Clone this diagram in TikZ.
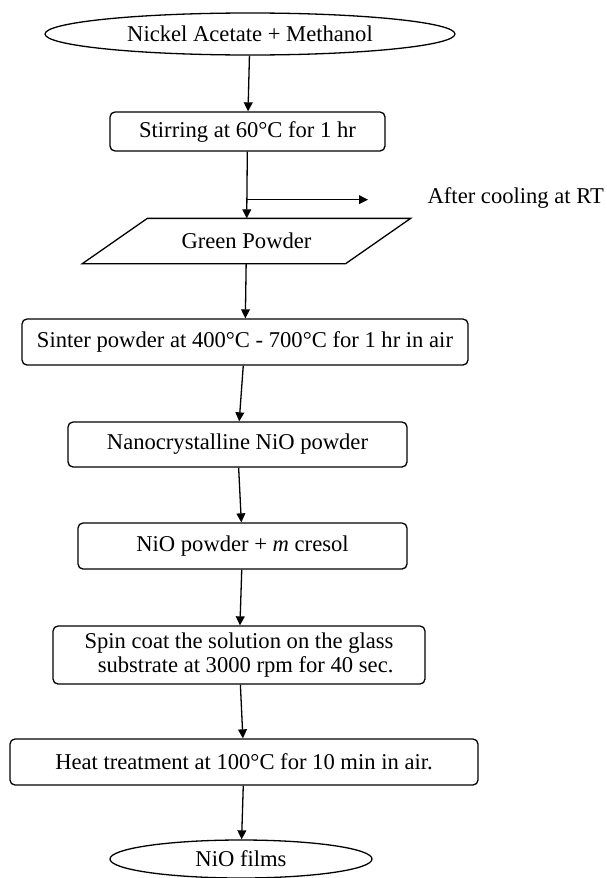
\documentclass[tikz,border=0pt]{standalone}
\usepackage{fontspec}
\setmainfont{Liberation Serif}
\usetikzlibrary{shapes.geometric,arrows.meta,calc}

\tikzset{
  box/.style={draw,rounded corners=2.5pt,inner sep=0pt,align=center},
  oval/.style={draw,ellipse,inner sep=0pt},
  arr/.style={-{Triangle[length=4.5pt,width=4.4pt]}},
}

\begin{document}
\begin{tikzpicture}[x=0.5pt,y=-0.5pt,line width=0.65pt,font=\fontsize{11.3}{12}\selectfont]
\useasboundingbox (0,0) rectangle (606,878);

\node[oval,minimum width=205pt,minimum height=21pt] (start) at (250,34) {Nickel Acetate + Methanol};
\node[box,minimum width=137.5pt,minimum height=19.5pt] (stir) at (247.5,131.5) {Stirring at 60°C for 1 hr};
\node[inner sep=0pt,minimum width=131pt,minimum height=22pt] (green) at (246.5,241) {Green Powder};
\draw ($(green.north west)+(32.5,0)$) -- ($(green.north east)+(32.5,0)$)
  -- ($(green.south east)-(32.5,0)$) -- ($(green.south west)-(32.5,0)$) -- cycle;
\node[box,minimum width=223pt,minimum height=23pt] (sinter) at (245,342) {Sinter powder at 400°C - 700°C for 1 hr in air};
\node[box,minimum width=169.5pt,minimum height=22.5pt] (nano) at (237.5,444.5) {Nanocrystalline NiO powder};
\node[box,minimum width=164.5pt,minimum height=23pt] (cresol) at (242.5,546) {NiO powder + \textit{m} cresol};
\node[box,align=right,minimum width=186pt,minimum height=29pt] (spin) at (239,655) {Spin coat the solution on the glass\\ substrate at 3000 rpm for 40 sec.};
\node[box,minimum width=234pt,minimum height=23pt] (heat) at (244,762) {Heat treatment at 100°C for 10 min in air.};
\node[oval,minimum width=131pt,minimum height=19pt] (films) at (241,859) {NiO films};

% side branch
\node[anchor=west,inner sep=0pt] (cool) at (427,198) {After cooling at RT};
\coordinate (branch) at ($(stir.south)!0.72!(green.north)$);
\coordinate (coolend) at (368,200);

\draw[arr] (start) -- (stir);
\draw[arr] (stir) -- (green);
\draw[arr] (branch) -- (branch -| coolend);
\draw[arr] (green) -- (sinter);
\draw[arr] (sinter) -- (nano);
\draw[arr] (nano) -- (cresol);
\draw[arr] (cresol) -- (spin);
\draw[arr] (spin) -- (heat);
\draw[arr] (heat) -- (films);
\end{tikzpicture}
\end{document}
